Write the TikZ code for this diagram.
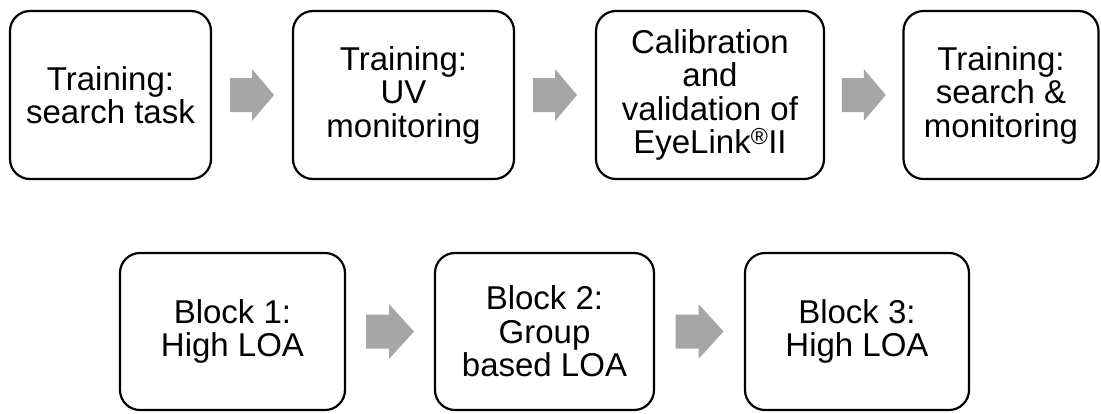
\documentclass[tikz,border=0pt]{standalone}
\usepackage{fontspec}
\setmainfont{Liberation Sans}
\usetikzlibrary{calc}
\definecolor{arrowgray}{HTML}{A6A6A6}
\tikzset{
  stepbox/.style={draw=black, line width=2.2pt, rounded corners=20pt, fill=white,
    align=center, inner sep=0pt,
    font=\fontsize{33pt}{33.5pt}\selectfont},
}
% #1 from node, #2 to node, #3 midpoint name, #4 half length, #5 head base offset, #6 head half-height
\newcommand\blockarrow[6]{%
  \path (#1.east) -- (#2.west) coordinate[midway] (#3);
  \fill[arrowgray] ($(#3)+(-#4,-17)$) -- ($(#3)+(#5,-17)$) -- ($(#3)+(#5,-#6)$)
    -- ($(#3)+(#4,0)$) -- ($(#3)+(#5,#6)$) -- ($(#3)+(#5,17)$) -- ($(#3)+(-#4,17)$) -- cycle;
}
\begin{document}
\begin{tikzpicture}[x=1pt,y=-1pt]
\useasboundingbox (0,0) rectangle (1101,413);
\node[stepbox, minimum width=201pt, minimum height=168pt] (b1) at (110.5,95) {Training:\\search task};
\node[stepbox, minimum width=221pt, minimum height=168pt] (b2) at (403.5,95) {Training:\\UV\\monitoring};
\node[stepbox, minimum width=228pt, minimum height=168pt] (b3) at (710,95) {Calibration\\and\\validation of\\EyeLink\textsuperscript{\textregistered}II};
\node[stepbox, minimum width=195pt, minimum height=168pt] (b4) at (1001,95) {Training:\\search \&\\monitoring};
\node[stepbox, minimum width=225pt, minimum height=157pt] (b5) at (232.5,331.5) {Block 1:\\High LOA};
\node[stepbox, minimum width=219pt, minimum height=157pt] (b6) at (544.5,331.5) {Block 2:\\Group\\based LOA};
\node[stepbox, minimum width=224pt, minimum height=157pt] (b7) at (857,331.5) {Block 3:\\High LOA};
\blockarrow{b1}{b2}{m1}{22}{0}{26}
\blockarrow{b2}{b3}{m2}{22}{0}{26}
\blockarrow{b3}{b4}{m3}{22}{0}{26}
\blockarrow{b5}{b6}{m4}{24}{-1}{27.5}
\blockarrow{b6}{b7}{m5}{24}{-1}{27.5}
\end{tikzpicture}
\end{document}
